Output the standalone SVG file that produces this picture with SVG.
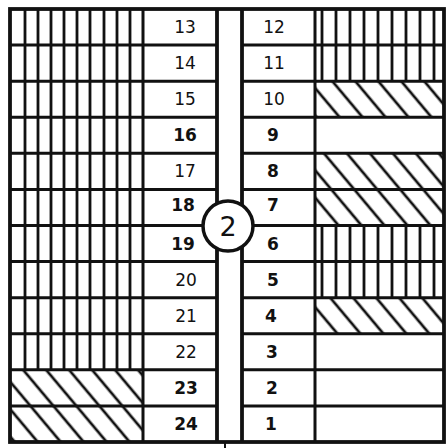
<svg xmlns="http://www.w3.org/2000/svg" width="447" height="448" viewBox="0 0 447 448">
<style>
.grid{stroke:#111;stroke-width:3;fill:none}
.outer{stroke:#111;stroke-width:3.8;fill:none}
.vs{stroke:#111;stroke-width:2.8;fill:none}
.lbl{font-family:"DejaVu Sans","Liberation Sans",sans-serif;font-size:17px;fill:#111;text-anchor:middle}
.b{font-weight:bold}
</style>
<defs>
<pattern id="diag" patternUnits="userSpaceOnUse" width="17.6" height="20" patternTransform="rotate(-40)">
<line x1="8.8" y1="-2" x2="8.8" y2="22" stroke="#111" stroke-width="2.7"/>
</pattern>
</defs>
<rect width="447" height="448" fill="#fff"/>

<g id="hatching">
<path class="vs" d="M25,9V369.8M38,9V369.8M51,9V369.8M64,9V369.8M77,9V369.8M90,9V369.8M104,9V369.8M117,9V369.8M130,9V369.8"/>
<rect x="10" y="369.8" width="133" height="72.2" fill="url(#diag)"/>
<path class="vs" d="M322,9V81.2M336,9V81.2M350,9V81.2M364,9V81.2M378,9V81.2M392,9V81.2M406,9V81.2M420,9V81.2M434,9V81.2"/>
<path class="vs" d="M322,225.5V297.7M336,225.5V297.7M350,225.5V297.7M364,225.5V297.7M378,225.5V297.7M392,225.5V297.7M406,225.5V297.7M420,225.5V297.7M434,225.5V297.7"/>
<rect x="315" y="81.2" width="129" height="36" fill="url(#diag)"/>
<rect x="315" y="153.3" width="129" height="72.2" fill="url(#diag)"/>
<rect x="315" y="297.7" width="129" height="36" fill="url(#diag)"/>
</g>

<g id="grid">
<path class="grid" d="M10,45.1H217M10,81.2H217M10,117.2H217M10,153.3H217M10,189.4H217M10,225.5H217M10,261.6H217M10,297.7H217M10,333.7H217M10,369.8H217M10,405.9H217"/>
<path class="grid" d="M242,45.1H444M242,81.2H444M242,117.2H444M242,153.3H444M242,189.4H444M242,225.5H444M242,261.6H444M242,297.7H444M242,333.7H444M242,369.8H444M242,405.9H444"/>
<path class="grid" d="M143,9V442M315,9V442"/>
<path class="outer" d="M217,9V442M242,9V442"/>
<rect class="outer" x="10" y="9" width="434" height="433"/>
</g>

<g id="left-labels">
<text class="lbl" x="185" y="33">13</text>
<text class="lbl" x="185" y="69">14</text>
<text class="lbl" x="185" y="105">15</text>
<text class="lbl b" x="185" y="141">16</text>
<text class="lbl" x="185" y="177">17</text>
<text class="lbl b" x="183" y="211">18</text>
<text class="lbl b" x="183" y="250">19</text>
<text class="lbl" x="186" y="286">20</text>
<text class="lbl" x="186" y="322">21</text>
<text class="lbl" x="186" y="358">22</text>
<text class="lbl b" x="186" y="394">23</text>
<text class="lbl b" x="186" y="430">24</text>
</g>

<g id="right-labels">
<text class="lbl" x="274" y="33">12</text>
<text class="lbl" x="274" y="69">11</text>
<text class="lbl" x="274" y="105">10</text>
<text class="lbl b" x="273" y="141">9</text>
<text class="lbl b" x="273" y="177">8</text>
<text class="lbl b" x="273" y="211">7</text>
<text class="lbl b" x="273" y="250">6</text>
<text class="lbl b" x="273" y="286">5</text>
<text class="lbl b" x="271" y="322">4</text>
<text class="lbl b" x="272" y="358">3</text>
<text class="lbl b" x="272" y="394">2</text>
<text class="lbl b" x="271" y="430">1</text>
</g>

<g id="node-2">
<circle cx="228" cy="226" r="25" fill="#fff" stroke="#111" stroke-width="3.5"/>
<text x="228" y="236" font-family="DejaVu Sans, Liberation Sans, sans-serif" font-size="27" fill="#111" text-anchor="middle">2</text>
</g>

<g id="connectors">
<line x1="225" y1="442" x2="225" y2="448" stroke="#111" stroke-width="2"/>
</g>
</svg>
